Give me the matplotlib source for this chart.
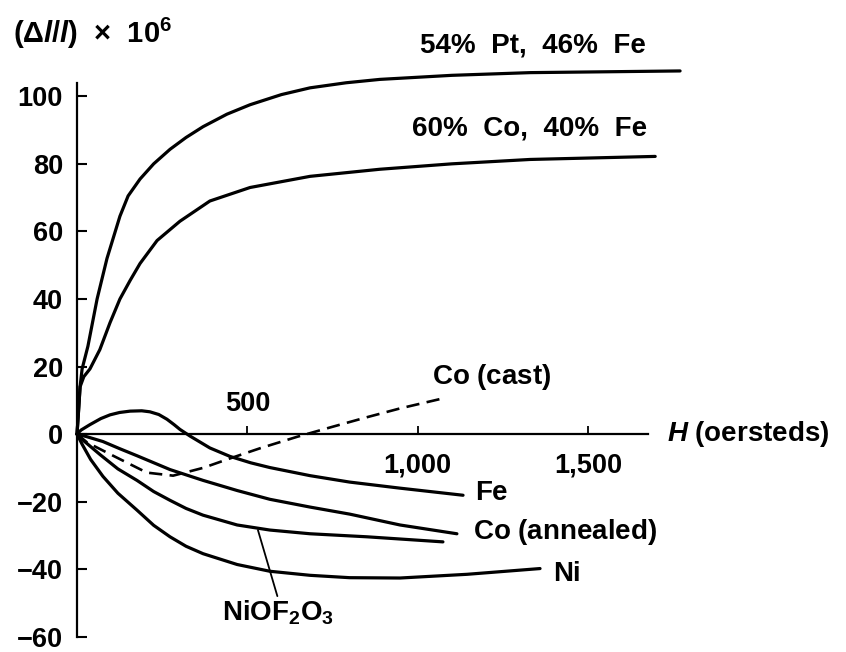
import matplotlib
matplotlib.use('Agg')  # no GUI
import matplotlib.pyplot as plt

# -----------------------------
# Data
# -----------------------------
# H in oersteds, strain (dl/l) x 10^6
pt_fe_h = [0, 4, 9, 15, 32, 59, 88, 126, 150, 185, 225, 273, 320, 370, 440, 508,
           600, 684, 790, 889, 1100, 1330, 1770]
pt_fe_v = [0, 6, 14, 19.3, 26, 40, 52, 64.5, 70.5, 75.5, 80, 84.3, 87.8, 91, 94.7, 97.5,
           100.5, 102.5, 104, 105, 106.2, 107, 107.5]

co_fe_h = [0, 4, 9, 20, 38, 67, 97, 126, 156, 185, 235, 302, 390, 508, 684, 889,
           1100, 1330, 1697]
co_fe_v = [0, 6, 14, 17, 19.3, 25, 33, 40, 45.5, 50.5, 57.3, 63, 69, 73, 76.3, 78.4,
           80, 81.3, 82.2]

fe_h = [0, 12, 38, 70, 97, 125, 156, 190, 214, 240, 264, 285, 302, 332, 390, 449,
        510, 566, 684, 800, 948, 1133]
fe_v = [0, 1.2, 2.8, 4.6, 5.7, 6.4, 6.8, 6.9, 6.6, 5.8, 4.4, 2.8, 1.4, -0.6, -4.1, -6.6,
        -8.5, -9.9, -12.3, -14.2, -16, -18.1]

co_cast_h = [0, 30, 106, 205, 282, 370, 449, 537, 646, 751, 851, 948, 1071]
co_cast_v = [0, -2.5, -6.4, -11.4, -12.3, -10, -7.2, -4.2, -0.8, 2.2, 5, 7.6, 10.5]

co_ann_h = [0, 30, 76, 125, 176, 273, 370, 470, 566, 684, 801, 948, 1115]
co_ann_v = [0, -0.8, -2.2, -4.3, -6.4, -10.5, -13.7, -16.7, -19.3, -21.6, -23.7, -26.9, -29.5]

niof_h = [0, 20, 68, 120, 176, 225, 273, 320, 370, 470, 566, 684, 851, 1074]
niof_v = [0, -2, -6.1, -10.3, -13.7, -17, -19.6, -22, -24, -26.9, -28.4, -29.5, -30.4, -31.9]

ni_h = [0, 15, 40, 76, 120, 176, 225, 273, 320, 370, 470, 566, 684, 800, 948, 1145, 1359]
ni_v = [0, -3, -7.5, -12.5, -17.5, -22.5, -27, -30.4, -33.2, -35.4, -38.6, -40.6, -41.8,
        -42.5, -42.6, -41.5, -39.8]

y_ticks = [-60, -40, -20, 0, 20, 40, 60, 80, 100]
y_tick_labels = ['\u221260', '\u221240', '\u221220', '0', '20', '40', '60', '80', '100']
x_ticks = [500, 1000, 1500]
x_tick_labels = ['', '1,000', '1,500']

# -----------------------------
# Style
# -----------------------------
plt.rcParams['font.family'] = ['Liberation Sans', 'DejaVu Sans']
plt.rcParams['font.weight'] = 'bold'
plt.rcParams['mathtext.fontset'] = 'custom'
plt.rcParams['mathtext.rm'] = 'Liberation Sans'
plt.rcParams['mathtext.bf'] = 'Liberation Sans:bold'
plt.rcParams['mathtext.it'] = 'Liberation Sans:italic'

fig = plt.figure(figsize=(8.46, 6.52), dpi=100)
ax = fig.add_axes([0, 0, 1, 1])
ax.set_xlim(-226, 2257)
ax.set_ylim(-64.5, 128.5)

for s in ['top', 'right']:
    ax.spines[s].set_visible(False)
ax.spines['left'].set_position(('data', 0))
ax.spines['left'].set_bounds(-60, 104)
ax.spines['bottom'].set_position(('data', 0))
ax.spines['bottom'].set_bounds(0, 1676)
for s in ['left', 'bottom']:
    ax.spines[s].set_linewidth(1.6)

ax.set_yticks(y_ticks)
ax.set_yticklabels(y_tick_labels)
ax.tick_params(axis='y', direction='in', length=7.5, width=1.5, pad=10, labelsize=19.5)
ax.set_xticks(x_ticks)
ax.set_xticklabels(x_tick_labels)
ax.tick_params(axis='x', direction='in', length=6, width=1.3, pad=13, labelsize=19.5)

# -----------------------------
# Curves
# -----------------------------
lw = 2.3
solid = dict(color='black', lw=lw, solid_capstyle='round', solid_joinstyle='round')
ax.plot(pt_fe_h, pt_fe_v, **solid)
ax.plot(co_fe_h, co_fe_v, **solid)
ax.plot(fe_h, fe_v, **solid)
ax.plot(co_cast_h, co_cast_v, color='black', lw=1.9, linestyle=(0, (5, 2.8)))
ax.plot(co_ann_h, co_ann_v, **solid)
ax.plot(niof_h, niof_v, **solid)
ax.plot(ni_h, ni_v, **solid)

# -----------------------------
# Labels
# -----------------------------
fs = 20
ax.text(1338, 114.9, '54%  Pt,  46%  Fe', fontsize=fs, ha='center', va='center')
ax.text(1327, 90.4, '60%  Co,  40%  Fe', fontsize=fs, ha='center', va='center')
ax.text(1042, 17, r'Co $\mathrm{(cast)}$', fontsize=fs, ha='left', va='center')
ax.text(1732, 0, r'$\mathit{H}$ $\mathrm{(oersteds)}$', fontsize=fs, ha='left', va='center')
ax.text(1168, -17.3, 'Fe', fontsize=fs, ha='left', va='center')
ax.text(1162, -29, r'Co $\mathrm{(annealed)}$', fontsize=fs, ha='left', va='center')
ax.text(1397, -41.5, 'Ni', fontsize=fs, ha='left', va='center')
ax.annotate(r'NiOF$_\mathbf{2}$O$_\mathbf{3}$', xy=(531, -28.4), xytext=(426, -53),
            fontsize=fs, ha='left', va='center',
            arrowprops=dict(arrowstyle='-', color='black', lw=1.3,
                            shrinkA=0, shrinkB=0, relpos=(0.5, 1.0)))
ax.text(500, 8.8, '500', fontsize=19.5, ha='center', va='center')
ax.text(-188, 118.7, r'($\Delta\mathit{l}$/$\mathit{l}$)  $\times$  10$^{6}$',
        fontsize=21, ha='left', va='center')

plt.savefig('out.png', dpi=100)
print('Saved plot to out.png')
